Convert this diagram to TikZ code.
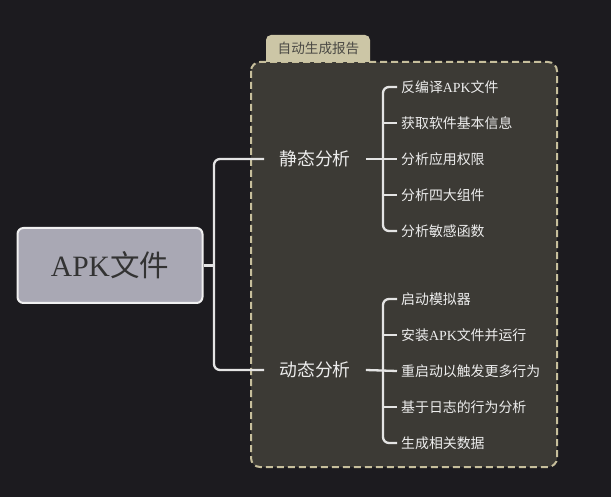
\documentclass[tikz,border=0pt]{standalone}
\usepackage{fontspec}
\setmainfont{Liberation Serif}
\newfontfamily\cjk{Noto Sans CJK SC}
\newfontfamily\lat{Liberation Serif}
\newcommand{\apk}{{\lat APK}}
\definecolor{bgc}{HTML}{1C1B1F}
\definecolor{panelc}{HTML}{3C3A35}
\definecolor{dashc}{HTML}{C7BF9C}
\definecolor{tabc}{HTML}{CCC6A6}
\definecolor{tabtxt}{HTML}{4B4A45}
\definecolor{rootc}{HTML}{A9A8B4}
\definecolor{linec}{HTML}{E4E4E4}
\definecolor{txtc}{HTML}{EDEDED}
\tikzset{
  conn/.style={draw=linec, line width=2.3pt, rounded corners=6pt},
  rootbox/.style={draw=white!94!black, fill=rootc, line width=2pt, rounded corners=6pt,
    minimum width=185pt, minimum height=75pt, text=black!80, font=\cjk\fontsize{29.5}{32}\selectfont},
  mainbr/.style={text=txtc, inner xsep=15pt, inner ysep=3pt, font=\cjk\fontsize{17.8}{20}\selectfont},
  leaf/.style={text=txtc, anchor=west, inner xsep=4pt, inner ysep=2pt, font=\cjk\fontsize{13.9}{16}\selectfont},
  panel/.style={draw=dashc, fill=panelc, line width=2pt, dash pattern=on 7pt off 4pt, rounded corners=9pt},
  tabbox/.style={fill=tabc},
}
\begin{document}
\begin{tikzpicture}[x=1pt,y=-1pt]
\fill[bgc] (0,0) rectangle (611,497);
\useasboundingbox (0,0) rectangle (611,497);
% panel
\path[panel] (251,62) rectangle (557,467);
% tab
\path[tabbox] (266,62) [rounded corners=5pt] -- (266,35) -- (370,35) [sharp corners] -- (370,62) -- cycle;
\node[text=tabtxt, font=\cjk\fontsize{13.6}{15}\selectfont] (tab) at (318.5,48.5) {自动生成报告};
% root
\node[rootbox] (root) at (110,265.5) {\apk 文件};
% main branches
\node[mainbr] (st) at (315,159) {静态分析};
\node[mainbr] (dy) at (315,370) {动态分析};
\coordinate (j) at (214,265.5);
\draw[conn] (root.east) -- (j);
\draw[conn] (st.west) -| (j) |- (dy.west);
% static leaves
\node[leaf] (s1) at (397,87) {反编译\apk 文件};
\node[leaf] (s2) at (397,123) {获取软件基本信息};
\node[leaf] (s3) at (397,159) {分析应用权限};
\node[leaf] (s4) at (397,195) {分析四大组件};
\node[leaf] (s5) at (397,231) {分析敏感函数};
\coordinate (ts) at (383,159);
\draw[conn] (s1.west) -| (ts) |- (s5.west);
\draw[conn] (s2.west) -- (s2.west -| ts);
\draw[conn] (s4.west) -- (s4.west -| ts);
\draw[conn] (st.east) -- (s3.west);
% dynamic leaves
\node[leaf] (d1) at (397,299) {启动模拟器};
\node[leaf] (d2) at (397,335) {安装\apk 文件并运行};
\node[leaf] (d3) at (397,371) {重启动以触发更多行为};
\node[leaf] (d4) at (397,407) {基于日志的行为分析};
\node[leaf] (d5) at (397,443) {生成相关数据};
\coordinate (td) at (383,371);
\draw[conn] (d1.west) -| (td) |- (d5.west);
\draw[conn] (d2.west) -- (d2.west -| td);
\draw[conn] (d4.west) -- (d4.west -| td);
\draw[conn] (dy.east) -- (d3.west);
\end{tikzpicture}
\end{document}
